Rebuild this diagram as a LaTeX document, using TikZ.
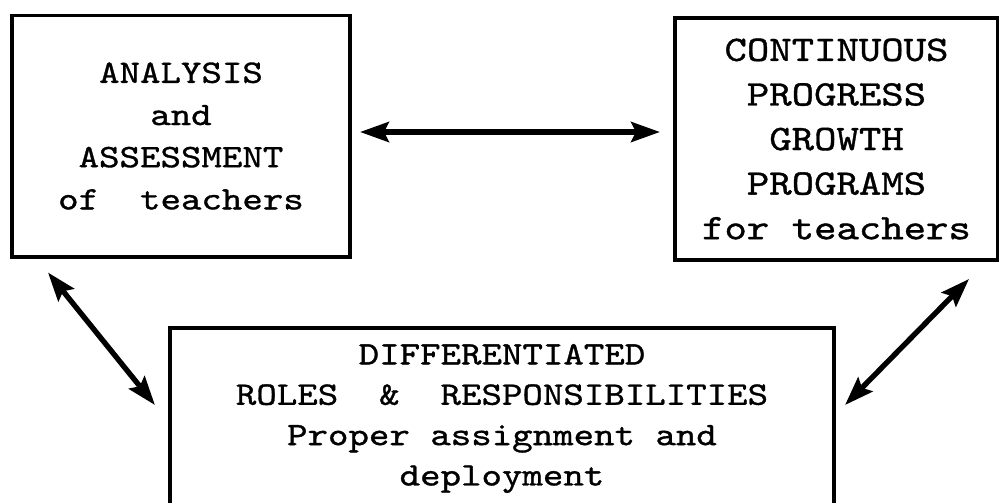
\documentclass[tikz,border=0pt]{standalone}
\usepackage{fontspec}
\newfontfamily\typewriter{lmmono10-regular}[Extension=.otf, FakeStretch=1.19, FakeBold=1]
\usepackage{tikz}
\usetikzlibrary{arrows.meta, calc}

\begin{document}
\begin{tikzpicture}[x=0.025cm, y=-0.025cm,
  card/.style={draw=black, line width=2.8pt, inner sep=0pt, align=center},
  smalltype/.style={font=\typewriter\fontsize{23.3}{30}\selectfont},
  bigtype/.style={font=\typewriter\fontsize{25.5}{31.7}\selectfont},
  twoway/.style={{Stealth[length=0.72cm, width=0.5cm, inset=0.12cm]}-{Stealth[length=0.72cm, width=0.5cm, inset=0.12cm]},
                 line width=3.8pt}
]
  \useasboundingbox (0,0) rectangle (999,502);

  \node[card, smalltype, minimum width=8.45cm, minimum height=6.025cm] (analysis) at (181,136)
    {ANALYSIS\\and\\ASSESSMENT\\of~~teachers};
  \node[card, bigtype, minimum width=8.075cm, minimum height=6.05cm] (growth) at (836.5,139)
    {CONTINUOUS\\PROGRESS\\GROWTH\\PROGRAMS\\for teachers};
  \node[card, smalltype, font=\typewriter\fontsize{23.3}{28.7}\selectfont, anchor=north,
        minimum width=16.6cm, inner ysep=0.4cm, text depth=4cm] (roles) at (502,326)
    {DIFFERENTIATED\\ROLES~~\&~~RESPONSIBILITIES\\Proper assignment and\\deployment};

  % links between the three boxes
  \draw[twoway] ($(analysis.east)+(8,-4)$) -- ($(growth.west)+(-13,-7)$);
  \draw[twoway] ($(analysis.south west)+(38,14)$) -- ($(roles.north west)+(-13,79)$);
  \draw[twoway] ($(growth.south east)+(-31,17)$) -- ($(roles.north east)+(9,79)$);
\end{tikzpicture}
\end{document}
